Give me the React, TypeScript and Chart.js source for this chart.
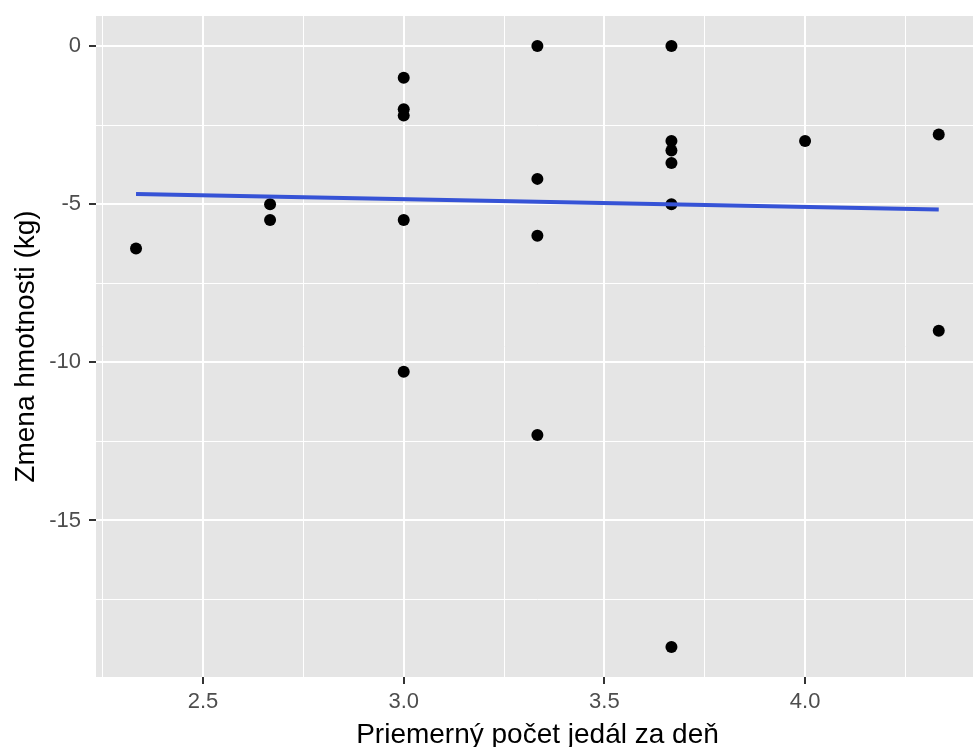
import React, { useEffect, useRef } from "react";
import { Chart, registerables } from "chart.js";

Chart.register(...registerables);

// Data
const mealsX = [2.333, 2.667, 2.667, 3.0, 3.0, 3.0, 3.0, 3.0, 3.333, 3.333, 3.333, 3.333, 3.667, 3.667, 3.667, 3.667, 3.667, 3.667, 4.0, 4.333, 4.333];
const weightChange = [-6.4, -5.0, -5.5, -1.0, -2.0, -2.2, -5.5, -10.3, 0, -4.2, -6.0, -12.3, 0, -3.0, -3.3, -3.7, -5.0, -19.0, -3.0, -2.8, -9.0];
const trendX = [2.333, 4.333];
const trendY = [-4.68, -5.17];

const xTickValues = [2.25, 2.5, 2.75, 3.0, 3.25, 3.5, 3.75, 4.0, 4.25];
const xTickLabels = ["", "2.5", "", "3.0", "", "3.5", "", "4.0", ""];
const yTickValues = [-17.5, -15, -12.5, -10, -7.5, -5, -2.5, 0];
const yTickLabels = ["", "-15", "", "-10", "", "-5", "", "0"];

const X_MIN = 2.2333;
const X_MAX = 4.4333;
const Y_MIN = -19.95;
const Y_MAX = 0.95;

const FONT = "'Liberation Sans', Arial, Helvetica, sans-serif";

const panelBg = {
  id: "panelBg",
  beforeDraw(chart: any) {
    const { ctx, chartArea } = chart;
    ctx.save();
    ctx.fillStyle = "#E5E5E5";
    ctx.fillRect(chartArea.left, chartArea.top, chartArea.right - chartArea.left, chartArea.bottom - chartArea.top);
    ctx.restore();
  },
};

function isMajor(values: number[], labels: string[], v: number) {
  const i = values.findIndex((t) => Math.abs(t - v) < 1e-6);
  return i >= 0 && labels[i] !== "";
}

export default function App() {
  const ref = useRef<HTMLCanvasElement | null>(null);

  useEffect(() => {
    const canvas = ref.current;
    if (!canvas) return;
    const scatterPts = mealsX.map((x, i) => ({ x, y: weightChange[i] }));
    const linePts = trendX.map((x, i) => ({ x, y: trendY[i] }));

    const chart = new Chart(canvas, {
      type: "scatter",
      data: {
        datasets: [
          {
            type: "line",
            data: linePts,
            borderColor: "#3653D6",
            borderWidth: 4,
            pointRadius: 0,
            fill: false,
            order: 0,
          } as any,
          {
            type: "scatter",
            data: scatterPts,
            backgroundColor: "#000000",
            borderColor: "#000000",
            borderWidth: 0,
            pointRadius: 6,
            order: 1,
          },
        ],
      },
      options: {
        animation: false,
        responsive: false,
        devicePixelRatio: 1,
        layout: { padding: { top: 16, left: 0, right: 0, bottom: 0 } },
        plugins: { legend: { display: false }, tooltip: { enabled: false } },
        scales: {
          x: {
            type: "linear",
            min: X_MIN,
            max: X_MAX,
            afterBuildTicks: (scale: any) => {
              scale.ticks = xTickValues.map((v) => ({ value: v }));
            },
            afterFit: (scale: any) => {
              scale.height = 70;
              scale.paddingLeft = 0;
              scale.paddingRight = 0;
            },
            border: { display: false },
            grid: {
              color: "#FFFFFF",
              lineWidth: (c: any) => (isMajor(xTickValues, xTickLabels, c.tick?.value) ? 2 : 1),
              tickColor: (c: any) => (isMajor(xTickValues, xTickLabels, c.tick?.value) ? "#333333" : "rgba(0,0,0,0)"),
              tickWidth: 2,
              tickLength: 7,
            },
            ticks: {
              autoSkip: false,
              maxRotation: 0,
              padding: 5,
              color: "#4D4D4D",
              font: { family: FONT, size: 22 },
              callback: (v: any) => {
                const i = xTickValues.findIndex((t) => Math.abs(t - Number(v)) < 1e-6);
                return i >= 0 ? xTickLabels[i] : "";
              },
            },
            title: {
              display: true,
              text: "Priemerný počet jedál za deň",
              color: "#000000",
              font: { family: FONT, size: 28, lineHeight: 0.86 },
              padding: { top: 0, bottom: 0 },
            },
          },
          y: {
            type: "linear",
            min: Y_MIN,
            max: Y_MAX,
            afterBuildTicks: (scale: any) => {
              scale.ticks = yTickValues.map((v) => ({ value: v }));
            },
            afterFit: (scale: any) => {
              scale.width = 96;
              scale.paddingTop = 0;
              scale.paddingBottom = 0;
            },
            border: { display: false },
            grid: {
              color: "#FFFFFF",
              lineWidth: (c: any) => (isMajor(yTickValues, yTickLabels, c.tick?.value) ? 2 : 1),
              tickColor: (c: any) => (isMajor(yTickValues, yTickLabels, c.tick?.value) ? "#333333" : "rgba(0,0,0,0)"),
              tickWidth: 2,
              tickLength: 7,
            },
            ticks: {
              autoSkip: false,
              padding: 8,
              color: "#4D4D4D",
              font: { family: FONT, size: 22 },
              callback: (v: any) => {
                const i = yTickValues.findIndex((t) => Math.abs(t - Number(v)) < 1e-6);
                return i >= 0 ? yTickLabels[i] : "";
              },
            },
            title: {
              display: true,
              text: "Zmena hmotnosti (kg)",
              color: "#000000",
              font: { family: FONT, size: 28, lineHeight: 1.2 },
              padding: { top: 9, bottom: 0 },
            },
          },
        },
      },
      plugins: [panelBg],
    });
    return () => chart.destroy();
  }, []);

  return (
    <div
      style={{
        position: "fixed",
        left: 0,
        top: 0,
        width: 973,
        height: 747,
        overflow: "hidden",
        background: "#FFFFFF",
      }}
    >
      <canvas ref={ref} width={985} height={747} style={{ display: "block", width: 985, height: 747 }} />
    </div>
  );
}
